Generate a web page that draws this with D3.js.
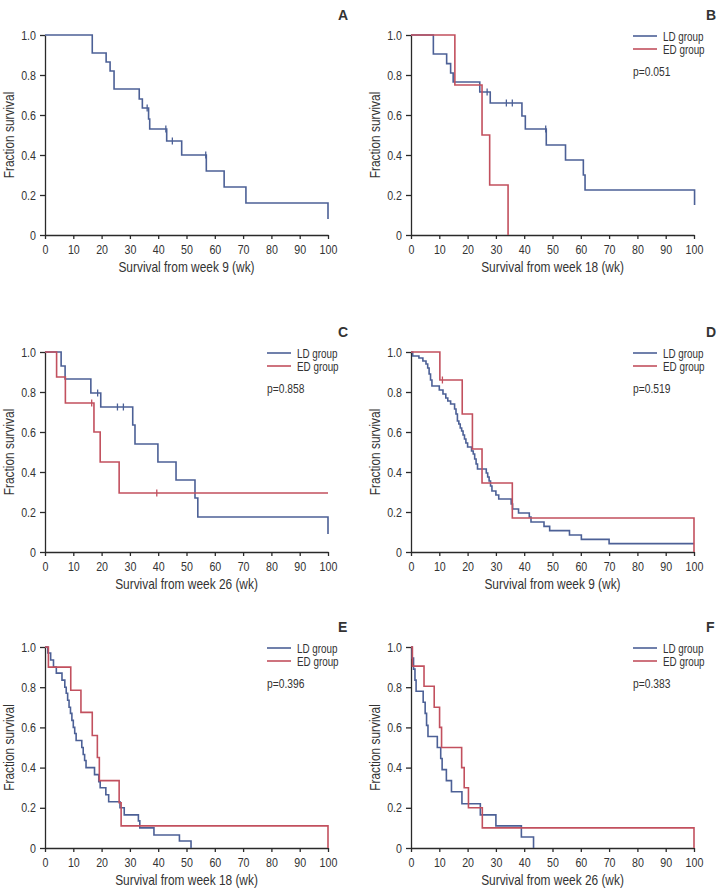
<!DOCTYPE html>
<html><head><meta charset="utf-8">
<script src="https://cdn.jsdelivr.net/npm/d3@7"></script>
<style>
body{margin:0;background:#fff}
svg text{font-family:"Liberation Sans",Arial,sans-serif;fill:#333}
</style>
</head><body>
<svg id="chart" width="725" height="890"></svg>
<script>
// ---------- Data (weeks, fraction surviving) ----------
const xTicks = [0,10,20,30,40,50,60,70,80,90,100];
const yTicks = [0,0.2,0.4,0.6,0.8,1.0];
const yTickLabels = ["0","0.2","0.4","0.6","0.8","1.0"];
const panelLetters = ["A","B","C","D","E","F"];
const xTitles = ["Survival from week 9 (wk)","Survival from week 18 (wk)","Survival from week 26 (wk)",
                 "Survival from week 9 (wk)","Survival from week 18 (wk)","Survival from week 26 (wk)"];
const yTitle = "Fraction survival";
const seriesNames = ["LD group","ED group"];
const pValues = [null,"p=0.051","p=0.858","p=0.519","p=0.396","p=0.383"];

// Panel A (all patients, single curve)
const aLDt = [0,16.7,21.6,23.0,24.4,33.3,34.4,36.6,37.0,43.0,48.3,57.0,63.3,71.0,100];
const aLDs = [1,0.91,0.865,0.82,0.73,0.68,0.635,0.58,0.53,0.47,0.40,0.32,0.24,0.16,0.08];
const aLDc = [36.1,42.7,45.0,56.8];

// Panel B
const bLDt = [0,7.9,12.6,14.0,14.9,24.3,28.0,39.2,40.4,47.8,54.6,60.9,61.5,100.2];
const bLDs = [1,0.905,0.857,0.81,0.765,0.715,0.66,0.595,0.53,0.45,0.375,0.30,0.225,0.15];
const bLDc = [26.9,33.7,35.8,47.6];
const bEDt = [0,15.5,25.1,27.8,34.3];
const bEDs = [1,0.75,0.5,0.25,0];
const bEDc = [];

// Panel C
const cLDt = [0,5.7,7.1,16.2,19.7,31.0,31.8,39.9,46.3,53.0,54.0,100];
const cLDs = [1,0.93,0.865,0.795,0.725,0.635,0.54,0.45,0.36,0.27,0.175,0.09];
const cLDc = [18.6,25.6,27.7];
const cEDt = [0,4.1,7.2,17.3,19.5,26.2,100];
const cEDs = [1,0.875,0.745,0.60,0.45,0.295,0.295];
const cEDc = [16.5,39.5];

// Panel D
const dLDt = [0,0.6,2.8,4.2,5.3,5.9,6.4,6.9,7.4,10.0,11.3,12.3,13.0,14.0,15.4,15.9,16.4,16.9,17.4,17.9,
              18.4,18.9,19.4,20.0,21.4,22.0,22.5,23.0,23.5,26.6,27.1,27.6,28.1,28.6,30.0,31.0,35.4,35.9,
              38.0,41.8,42.4,47.0,49.0,56.0,60.2,70.0,100];
const dLDs = [1,0.98,0.97,0.955,0.94,0.92,0.89,0.86,0.83,0.81,0.79,0.77,0.755,0.74,0.715,0.69,0.655,0.64,0.62,0.605,
              0.585,0.565,0.545,0.525,0.505,0.49,0.465,0.44,0.415,0.395,0.375,0.355,0.33,0.305,0.285,0.265,0.24,0.215,
              0.195,0.175,0.15,0.128,0.107,0.085,0.063,0.042,0.042];
const dLDc = [];
const dEDt = [0,10.2,18.1,21.7,25.1,35.8,100];
const dEDs = [1,0.86,0.69,0.515,0.345,0.17,0];
const dEDc = [11.1];

// Panel E
const eLDt = [0,1.0,2.0,3.0,4.0,6.0,7.0,7.5,8.0,8.5,9.0,9.5,10.0,10.5,11.0,13.0,13.5,14.0,14.5,17.5,
              19.0,19.5,21.5,22.5,26.5,28.0,33.0,33.5,38.5,47.5,51.6];
const eLDs = [1,0.97,0.935,0.90,0.87,0.835,0.80,0.77,0.735,0.70,0.67,0.635,0.60,0.57,0.535,0.50,0.465,0.435,0.40,0.365,
              0.33,0.30,0.265,0.23,0.20,0.165,0.135,0.10,0.065,0.035,0];
const eLDc = [];
const eEDt = [0,1.2,9.1,12.7,16.7,18.5,19.2,26.2,26.9,100];
const eEDs = [1,0.90,0.785,0.675,0.56,0.45,0.335,0.225,0.11,0];
const eEDc = [];

// Panel F
const fLDt = [0,0.4,0.9,1.4,1.8,4.3,5.0,5.5,6.0,9.3,10.5,11.0,12.5,14.3,18.0,24.5,30.0,39.0,43.3];
const fLDs = [1,0.945,0.89,0.835,0.78,0.725,0.67,0.61,0.555,0.50,0.445,0.39,0.335,0.28,0.22,0.165,0.11,0.055,0];
const fLDc = [];
const fEDt = [0,0.5,4.6,8.2,10.1,10.8,17.9,18.8,20.3,25.2,100];
const fEDs = [1,0.905,0.805,0.70,0.60,0.50,0.40,0.30,0.20,0.10,0];
const fEDc = [];

// ---------- Layout / style ----------
const BLUE = "#4c6096", RED = "#c2505e", AXIS = "#2a2a2a";
const NARROW = 0.82; // condensed look (Arial Narrow-like)
const cols = [{x0:45,x1:328,letterX:338},{x0:411,x1:694,letterX:706}];
const rows = [{y0:35,y1:235},{y0:352,y1:552},{y0:647,y1:848}];

const panelSeries = [
  [{t:aLDt,s:aLDs,c:aLDc,color:BLUE}],
  [{t:bLDt,s:bLDs,c:bLDc,color:BLUE},{t:bEDt,s:bEDs,c:bEDc,color:RED}],
  [{t:cLDt,s:cLDs,c:cLDc,color:BLUE},{t:cEDt,s:cEDs,c:cEDc,color:RED}],
  [{t:dLDt,s:dLDs,c:dLDc,color:BLUE},{t:dEDt,s:dEDs,c:dEDc,color:RED}],
  [{t:eLDt,s:eLDs,c:eLDc,color:BLUE},{t:eEDt,s:eEDs,c:eEDc,color:RED}],
  [{t:fLDt,s:fLDs,c:fLDc,color:BLUE},{t:fEDt,s:fEDs,c:fEDc,color:RED}]
];

const svg = d3.select("#chart");

function survAt(t, s, time){
  let v = s[0];
  for(let i=0;i<t.length;i++){ if(t[i] <= time) v = s[i]; }
  return v;
}

panelSeries.forEach((series, i) => {
  const col = cols[i % 2], row = rows[Math.floor(i / 2)];
  const x = d3.scaleLinear().domain([0,100]).range([col.x0, col.x1]);
  const y = d3.scaleLinear().domain([0,1]).range([row.y1, row.y0]);
  const g = svg.append("g");

  // axes
  const xa = g.append("g").attr("transform",`translate(0,${row.y1})`)
    .call(d3.axisBottom(x).tickValues(xTicks).tickSize(4).tickSizeOuter(0).tickPadding(6));
  const ya = g.append("g").attr("transform",`translate(${col.x0},0)`)
    .call(d3.axisLeft(y).tickValues(yTicks).tickFormat((d,k)=>yTickLabels[k]).tickSize(5).tickSizeOuter(0).tickPadding(4));
  [xa,ya].forEach(a=>{
    a.selectAll("path,line").attr("stroke",AXIS).attr("stroke-width",1.3);
    a.selectAll("text").attr("font-family",null).style("font-size","13px").attr("fill","#3a3a3a");
  });

  // axis titles
  g.append("text").attr("x",(col.x0+col.x1)/2).attr("y",row.y1+37)
    .attr("text-anchor","middle").style("font-size","14.5px").text(xTitles[i]);
  g.append("text").attr("transform",`translate(${col.x0-31},${(row.y0+row.y1)/2}) rotate(-90)`)
    .attr("text-anchor","middle").style("font-size","14.5px").text(yTitle);

  // curves
  const line = d3.line().x(d=>x(d[0])).y(d=>y(d[1])).curve(d3.curveStepAfter);
  series.forEach(sr => {
    const pts = sr.t.map((t,k)=>[t, sr.s[k]]);
    g.append("path").datum(pts).attr("d",line).attr("fill","none")
      .attr("stroke",sr.color).attr("stroke-width",1.6);
    g.selectAll(null).data(sr.c).enter().append("line")
      .attr("x1",d=>x(d)).attr("x2",d=>x(d))
      .attr("y1",d=>y(survAt(sr.t,sr.s,d))-3.5).attr("y2",d=>y(survAt(sr.t,sr.s,d))+3.5)
      .attr("stroke",sr.color).attr("stroke-width",1.3);
  });

  // legend
  if(series.length > 1){
    const lx = col.x1 - 61;
    seriesNames.forEach((nm,k)=>{
      const ly = row.y0 + 1 + k*13;
      g.append("line").attr("x1",lx).attr("x2",lx+24).attr("y1",ly).attr("y2",ly)
        .attr("stroke",series[k].color).attr("stroke-width",1.6);
      g.append("text").attr("x",lx+30).attr("y",ly+4.5).style("font-size","12px").text(nm);
    });
    g.append("text").attr("x",lx).attr("y",row.y0+41).style("font-size","12.5px").text(pValues[i]);
  }

  // panel letter
  g.append("text").attr("class","letter").attr("x",col.letterX).attr("y",row.y0-15)
    .style("font-weight","bold").style("font-size","14px").attr("fill","#222").text(panelLetters[i]);
});

// condense all text except panel letters (narrow typeface look)
svg.selectAll("text").filter(function(){ return !this.classList.contains("letter"); }).each(function(){
  const L = this.getComputedTextLength();
  if(L > 0){
    d3.select(this).attr("textLength", L*NARROW).attr("lengthAdjust","spacingAndGlyphs");
  }
});
</script>
</body></html>
